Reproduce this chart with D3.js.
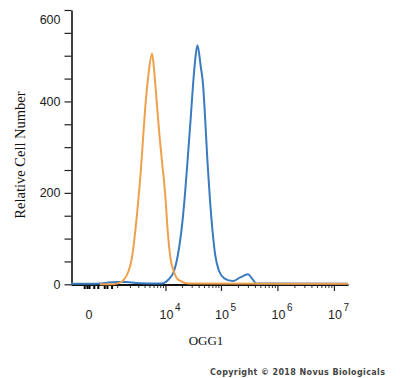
<html>
  <meta charset="utf-8" />
  <script src="https://d3js.org/d3.v7.min.js"></script>
  <style>
    body { margin: 0; background: #fff; }
    .tickLbl { font-family: "Liberation Sans", Arial, sans-serif; fill: #222; }
  </style>
  <body>
    <svg width="400" height="378" id="svg_Hist"></svg>

    <script>
      // x axis (biexponential-ish) ticks
      const majorValues = [0, 1e4, 1e5, 1e6, 1e7];
      const majorBase = ["0", "10", "10", "10", "10"];
      const majorExp = ["", "4", "5", "6", "7"];
      const linearTicks = [-100, -40, 0, 100, 200, 400, 500, 700];
      const minorTicks = [
        1000, 2000, 3000, 4000, 5000, 6000, 7000, 8000, 9000,
        20000, 30000, 40000, 50000, 60000, 70000, 80000, 90000,
        200000, 300000, 400000, 500000, 600000, 700000, 800000, 900000,
        2000000, 3000000, 4000000, 5000000, 6000000, 7000000, 8000000, 9000000
      ];

      // y axis ticks
      const yTicks = [0, 50, 100, 150, 200, 250, 300, 350, 400, 450, 500, 550, 600];
      const yLabels = [0, 200, 400, 600];

      // isotype control (orange)
      const orangeIntensity = [260, 630, 1060, 1430, 1850, 2200, 2590, 3030, 3440, 3780, 4140, 4810, 5600,
        6200, 6980, 7720, 8680, 9380, 10000, 11040, 12390, 14260, 17620, 26500, 17700000];
      const orangeCount = [0, 0, 2, 9, 28, 57, 115, 189, 261, 327, 388, 462, 505,
        462, 388, 327, 265, 228, 189, 115, 57, 28, 9, 2, 1];

      // OGG1 stained (blue)
      const blueIntensity = [-500, 300, 550, 1000, 1700, 2600, 4500, 8680, 11040, 14260, 16900, 19510,
        22400, 25100, 28800, 31700, 35500, 38100, 43650, 48030, 52210, 57680, 63440, 70970, 79040,
        93240, 114600, 162100, 219000, 300700, 359000, 423000, 17700000];
      const blueCount = [1, 2, 4, 5, 5, 3, 2, 2, 9, 28, 64, 115,
        188, 265, 363, 436, 502, 523, 476, 436, 363, 265, 188, 115, 64,
        28, 13, 7, 15, 22, 12, 2, 1];

      function drawHist() {
        const svg = d3.select("#svg_Hist");

        const x = d3.scaleSymlog().constant(465).domain([-503, 1.774e7]).range([71, 348]);
        const y = d3.scaleLinear().domain([0, 600]).range([284.3, 10]);

        // y axis
        const yAxis = svg
          .append("g")
          .attr("transform", "translate(71.5,0)")
          .call(
            d3.axisLeft(y)
              .tickValues(yTicks)
              .tickSize(7)
              .tickSizeOuter(0)
              .tickPadding(4)
              .tickFormat((d) => (yLabels.includes(d) ? d : ""))
          );
        yAxis.select(".domain").attr("stroke", "#111").attr("stroke-width", 1.6);
        yAxis.selectAll(".tick line").attr("stroke", "#222").attr("stroke-width", 1.2);
        yAxis.selectAll(".tick text")
          .attr("class", "tickLbl")
          .attr("font-size", 12.5)
          .attr("y", (d) => (d === 600 ? 9 : 0));

        // x axis: linear-region ticks, minor log ticks, major ticks
        const xg = svg.append("g").attr("transform", "translate(0,284.5)");
        xg.append("g")
          .call(d3.axisBottom(x).tickValues(minorTicks).tickSize(3.5).tickSizeOuter(0).tickFormat(""))
          .call((g) => g.select(".domain").remove())
          .selectAll(".tick line").attr("stroke", "#333").attr("stroke-width", 1);
        xg.append("g")
          .call(d3.axisBottom(x).tickValues(linearTicks).tickSize(4.5).tickSizeOuter(0).tickFormat(""))
          .call((g) => g.select(".domain").remove())
          .selectAll(".tick line").attr("stroke", "#000").attr("stroke-width", 2);
        const xMajor = xg.append("g")
          .call(d3.axisBottom(x).tickValues(majorValues.slice(1)).tickSize(6.5).tickSizeOuter(0).tickFormat(""));
        xMajor.select(".domain").attr("stroke", "#111").attr("stroke-width", 2);
        xMajor.selectAll(".tick line").attr("stroke", "#222").attr("stroke-width", 1.2);

        // x tick labels with superscripts
        svg.selectAll(".xBase")
          .data(majorValues)
          .enter()
          .append("text")
          .attr("class", "tickLbl xBase")
          .attr("x", (d) => x(d) + (d === 0 ? 0 : 1))
          .attr("y", 319)
          .attr("text-anchor", "middle")
          .attr("font-size", 12.5)
          .text((d, i) => majorBase[i]);
        svg.selectAll(".xExp")
          .data(majorValues)
          .enter()
          .append("text")
          .attr("class", "tickLbl xExp")
          .attr("x", (d) => x(d) + 9.5)
          .attr("y", 310.5)
          .attr("font-size", 10)
          .text((d, i) => majorExp[i]);

        // histograms
        const line = d3.line()
          .x((d) => x(d[0]))
          .y((d) => y(d[1]))
          .curve(d3.curveMonotoneX);

        svg.append("path")
          .datum(d3.zip(blueIntensity, blueCount))
          .attr("fill", "none")
          .attr("stroke", "#3a7bbf")
          .attr("stroke-width", 2)
          .attr("d", line);

        svg.append("path")
          .datum(d3.zip(orangeIntensity, orangeCount))
          .attr("fill", "none")
          .attr("stroke", "#eea04c")
          .attr("stroke-width", 2)
          .attr("d", line);

        // axis titles
        svg.append("text")
          .attr("transform", "translate(25,155) rotate(-90)")
          .attr("text-anchor", "middle")
          .attr("font-family", "Liberation Serif, Times New Roman, serif")
          .attr("font-size", 14.5)
          .attr("fill", "#111")
          .text("Relative Cell Number");

        svg.append("text")
          .attr("x", 206)
          .attr("y", 345)
          .attr("text-anchor", "middle")
          .attr("font-family", "Liberation Serif, Times New Roman, serif")
          .attr("font-size", 13)
          .attr("fill", "#111")
          .text("OGG1");

        svg.append("text")
          .attr("x", 210)
          .attr("y", 375)
          .attr("font-family", "DejaVu Sans, sans-serif")
          .attr("font-size", 8)
          .attr("font-weight", "bold")
          .attr("fill", "#444")
          .attr("textLength", 175)
          .attr("lengthAdjust", "spacing")
          .text("Copyright \u00A9 2018 Novus Biologicals");
      }

      drawHist();
    </script>
  </body>
</html>
